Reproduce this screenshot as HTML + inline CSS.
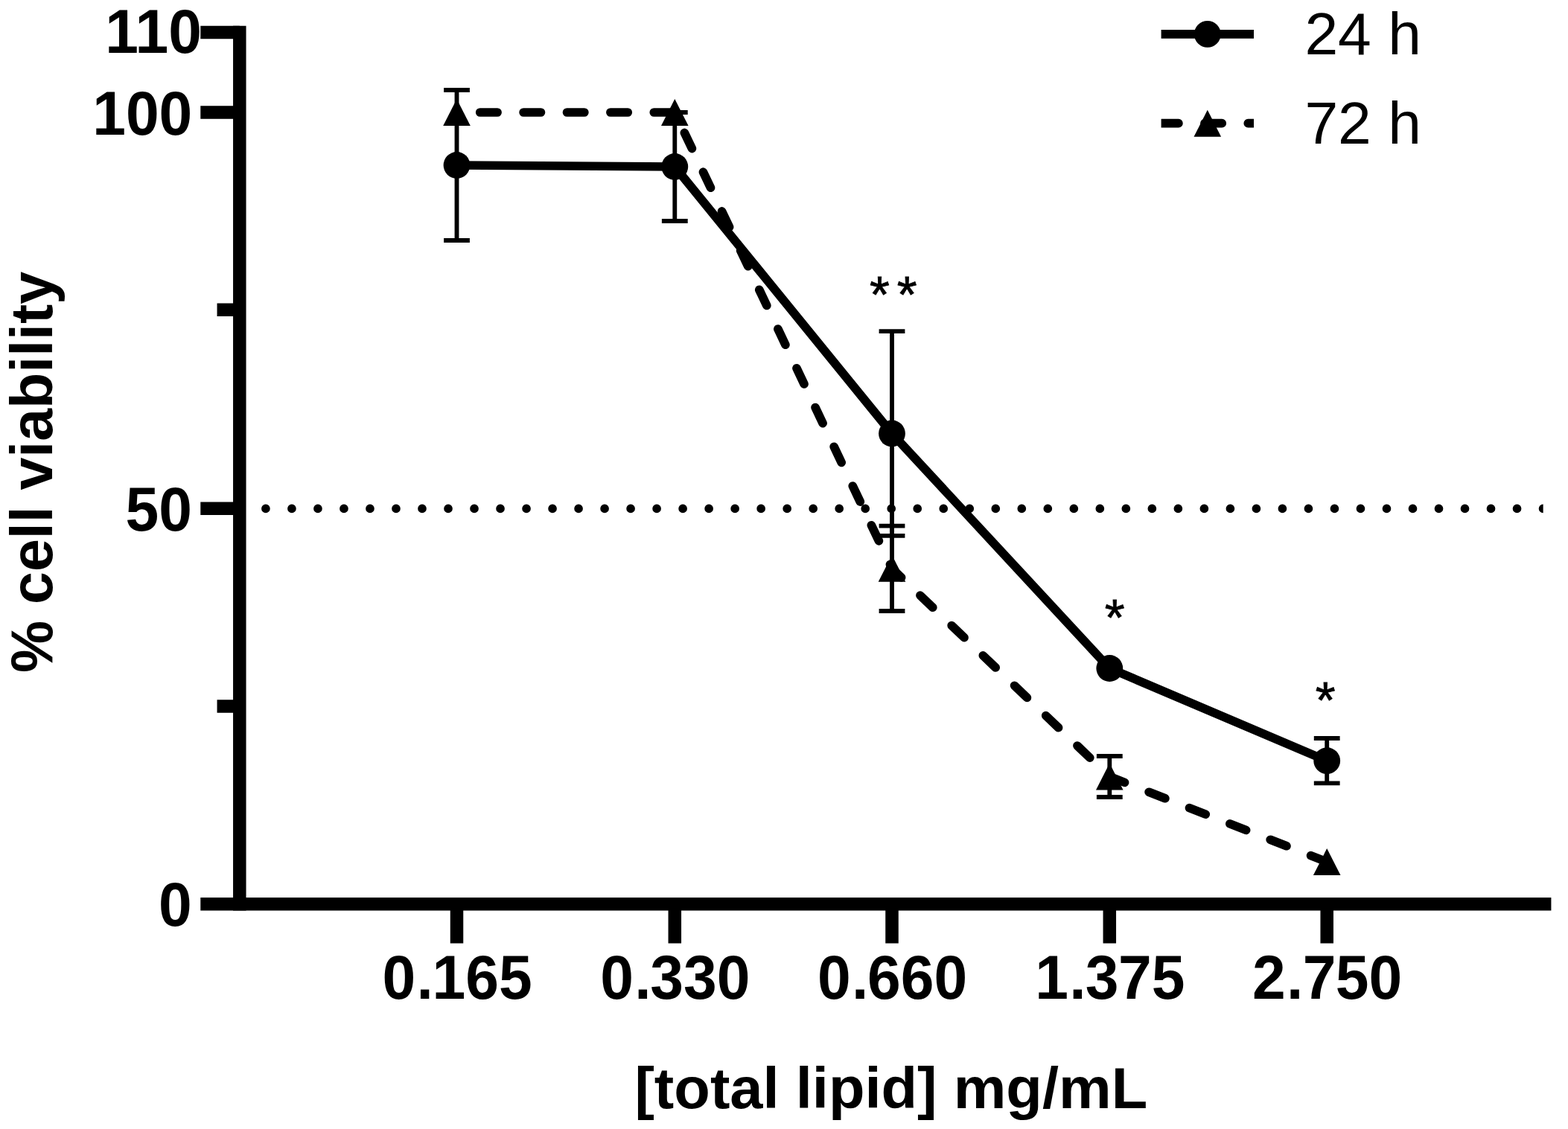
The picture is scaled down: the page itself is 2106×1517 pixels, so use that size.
<!DOCTYPE html>
<html lang="en"><head><meta charset="utf-8"><title>% cell viability vs [total lipid] mg/mL</title>
<style>
html,body{margin:0;padding:0;background:#fff;}
body{width:2106px;height:1517px;overflow:hidden;}
svg{display:block;}
text{font-family:"Liberation Sans",sans-serif;fill:#000;}
.b{font-weight:700;}
</style></head><body>
<svg width="2106" height="1517" viewBox="0 0 2106 1517">
<rect width="2106" height="1517" fill="#fff"/>
<defs><clipPath id="dotclip"><rect x="330" y="660" width="1742.65" height="50"/></clipPath></defs>
<g clip-path="url(#dotclip)"><line x1="321.9" y1="683.4" x2="2110" y2="683.4" stroke="#000" stroke-width="11.67" stroke-linecap="round" stroke-dasharray="0 35.013"/></g>
<g id="errors">
<path d="M1198.00 706.60V821.00M1180.60 706.60H1215.40M1180.60 821.00H1215.40" fill="none" stroke="#000" stroke-width="5.83"/>
<path d="M1490.30 1016.00V1071.00M1472.90 1016.00H1507.70M1472.90 1071.00H1507.70" fill="none" stroke="#000" stroke-width="5.83"/>
<path d="M613.50 121.00V323.00M596.10 121.00H630.90M596.10 323.00H630.90" fill="none" stroke="#000" stroke-width="5.83"/>
<path d="M906.30 151.00V297.00M888.90 151.00H923.70M888.90 297.00H923.70" fill="none" stroke="#000" stroke-width="5.83"/>
<path d="M1198.00 445.20V719.80M1180.60 445.20H1215.40M1180.60 719.80H1215.40" fill="none" stroke="#000" stroke-width="5.83"/>
<path d="M1782.20 992.00V1052.40M1764.80 992.00H1799.60M1764.80 1052.40H1799.60" fill="none" stroke="#000" stroke-width="5.83"/>
</g>
<polyline points="613.50,151.00 906.30,151.00 1198.00,763.80 1490.30,1043.50 1782.20,1158.05" fill="none" stroke="#000" stroke-width="11.67" stroke-linecap="round" stroke-linejoin="round" stroke-dasharray="23.36 35.04" stroke-dashoffset="27.2"/>
<polyline points="613.50,222.00 906.30,224.00 1198.00,582.50 1490.30,898.00 1782.20,1022.20" fill="none" stroke="#000" stroke-width="11.67" stroke-linejoin="round"/>
<path d="M613.50 133.05L631.80 168.95L595.20 168.95Z" fill="#000"/>
<path d="M906.30 133.05L924.60 168.95L888.00 168.95Z" fill="#000"/>
<path d="M1198.00 745.85L1216.30 781.75L1179.70 781.75Z" fill="#000"/>
<path d="M1490.30 1025.55L1508.60 1061.45L1472.00 1061.45Z" fill="#000"/>
<path d="M1782.20 1140.10L1800.50 1176.00L1763.90 1176.00Z" fill="#000"/>
<circle cx="613.50" cy="222.00" r="17.90" fill="#000"/>
<circle cx="906.30" cy="224.00" r="17.90" fill="#000"/>
<circle cx="1198.00" cy="582.50" r="17.90" fill="#000"/>
<circle cx="1490.30" cy="898.00" r="17.90" fill="#000"/>
<circle cx="1782.20" cy="1022.20" r="17.90" fill="#000"/>
<g id="axes" fill="none" stroke="#000" stroke-width="17.50">
<path d="M321.80 34.75V1223.45"/>
<path d="M269.30 1214.70H2083.40"/>
<path d="M269.30 43.50H321.80M269.30 150.90H321.80M269.30 683.25H321.80M291.55 416.30H321.80M291.55 949.00H321.80M613.50 1214.70V1267.45M906.30 1214.70V1267.45M1198.00 1214.70V1267.45M1490.30 1214.70V1267.45M1782.20 1214.70V1267.45"/>
</g>
<g class="b" font-size="80.40">
<text transform="translate(271.00 71.20) scale(1 1.048)" text-anchor="end">110</text>
<text transform="translate(258.30 180.90) scale(1 1.048)" text-anchor="end">100</text>
<text transform="translate(258.00 713.20) scale(1 1.048)" text-anchor="end">50</text>
<text transform="translate(257.60 1244.30) scale(1 1.048)" text-anchor="end">0</text>
<text transform="translate(614.00 1342.00) scale(1 1.048)" text-anchor="middle" dx="0 1.3 -1.3 0 0">0.165</text>
<text transform="translate(906.80 1342.00) scale(1 1.048)" text-anchor="middle" dx="0 1.3 -1.3 0 0">0.330</text>
<text transform="translate(1198.50 1342.00) scale(1 1.048)" text-anchor="middle" dx="0 1.3 -1.3 0 0">0.660</text>
<text transform="translate(1490.80 1342.00) scale(1 1.048)" text-anchor="middle" dx="0 1.3 -0.8 -0.5 0">1.375</text>
<text transform="translate(1782.70 1342.00) scale(1 1.048)" text-anchor="middle" dx="0 1.3 -0.8 -0.5 0">2.750</text>
<text transform="translate(1196.80 1488.80) scale(1.0166 1)" font-size="78.20" text-anchor="middle">[total lipid] mg/mL</text>
<text transform="translate(70.10 634.40) rotate(-90) scale(0.9905 1)" font-size="79.60" text-anchor="middle">% cell viability</text>
</g>
<g id="legend">
<line x1="1559.6" y1="45.9" x2="1684" y2="45.9" stroke="#000" stroke-width="11.67"/>
<circle cx="1621.8" cy="45.9" r="17.90" fill="#000"/>
<defs><clipPath id="legclip"><rect x="1559.6" y="150" width="124.4" height="30"/></clipPath></defs>
<g clip-path="url(#legclip)"><line x1="1559.6" y1="165.7" x2="1700" y2="165.7" stroke="#000" stroke-width="11.67" stroke-linecap="round" stroke-dasharray="23.33 35"/></g>
<path d="M1621.80 147.75L1640.10 183.65L1603.50 183.65Z" fill="#000"/>
<text x="1752.4" y="73.0" font-size="80.40">24 h</text>
<text x="1752.4" y="192.8" font-size="80.40">72 h</text>
</g>
<g font-size="69.00" stroke="#000" stroke-width="0.8" stroke-linejoin="miter">
<text x="1167.95 1204.8" y="419.4">**</text>
<text x="1483.85" y="852.5">*</text>
<text x="1766.75" y="963.6">*</text>
</g>
</svg>
</body></html>
